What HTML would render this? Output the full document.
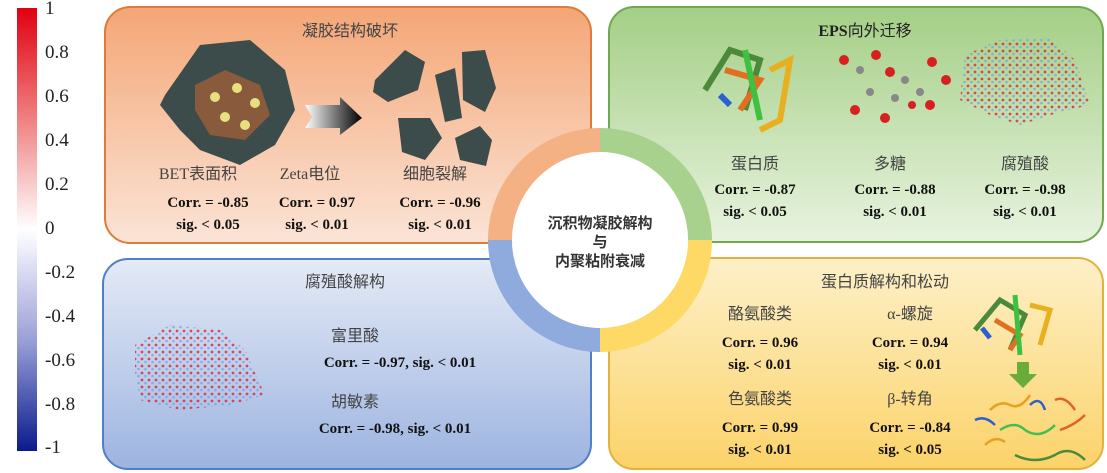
<!DOCTYPE html>
<html><head><meta charset="utf-8"><style>
body{margin:0;width:1107px;height:473px;background:#fff;position:relative;overflow:hidden;font-family:"Liberation Serif","Noto Serif CJK SC",serif;}
.a{position:absolute;}
.box{position:absolute;border-radius:26px;box-sizing:border-box;border:2px solid;}
.t{position:absolute;font-size:16px;color:#444;text-align:center;white-space:nowrap;font-family:"Liberation Serif","Noto Sans CJK SC",sans-serif;}
.c{position:absolute;font-size:15px;font-weight:bold;color:#111;text-align:center;white-space:nowrap;line-height:22px;}
.tick{position:absolute;left:45px;font-size:19px;color:#222;}
</style></head><body>
<div class="a" style="left:17px;top:8px;width:20px;height:443px;background:linear-gradient(#e00010,#f08080 25%,#fff 50%,#9aa0d8 75%,#0a1a8c);"></div>
<div class="tick" style="top:-2px">1</div>
<div class="tick" style="top:42px">0.8</div>
<div class="tick" style="top:86px">0.6</div>
<div class="tick" style="top:130px">0.4</div>
<div class="tick" style="top:174px">0.2</div>
<div class="tick" style="top:218px">0</div>
<div class="tick" style="top:262px">-0.2</div>
<div class="tick" style="top:306px">-0.4</div>
<div class="tick" style="top:350px">-0.6</div>
<div class="tick" style="top:394px">-0.8</div>
<div class="tick" style="top:437px">-1</div>

<div class="box" style="left:104px;top:6px;width:488px;height:238px;border-color:#e07a3a;background:linear-gradient(#f4a676,#fbe4d6);"></div>
<div class="box" style="left:608px;top:6px;width:496px;height:237px;border-color:#6fa84f;background:linear-gradient(#a4cf86,#e8f3df);"></div>
<div class="box" style="left:102px;top:258px;width:490px;height:212px;border-color:#4f7fc4;background:linear-gradient(#e4eaf6,#9db4e0);"></div>
<div class="box" style="left:608px;top:257px;width:496px;height:213px;border-color:#e3b13c;background:linear-gradient(#fdf0c8,#fcd36a);"></div>

<svg class="a" style="left:0;top:0" width="1107" height="473">
 <defs>
  <linearGradient id="ar"><stop offset="0" stop-color="#fff"/><stop offset="1" stop-color="#000"/></linearGradient>
  <pattern id="dots" width="7" height="7" patternUnits="userSpaceOnUse">
   <circle cx="2" cy="2" r="1.4" fill="#d83040"/><circle cx="5.5" cy="5" r="1.3" fill="#7aa8e0"/>
  </pattern>
 </defs>
 <path d="M600 128 A112 112 0 0 1 712 240 L688 240 A88 88 0 0 0 600 152Z" fill="#a9d18e"/>
 <path d="M712 240 A112 112 0 0 1 600 352 L600 328 A88 88 0 0 0 688 240Z" fill="#ffd966"/>
 <path d="M600 352 A112 112 0 0 1 488 240 L512 240 A88 88 0 0 0 600 328Z" fill="#8faadc"/>
 <path d="M488 240 A112 112 0 0 1 600 128 L600 152 A88 88 0 0 0 512 240Z" fill="#f4b183"/>
 <circle cx="600" cy="240" r="88" fill="#fff"/>
 <path d="M165 95 L200 45 L250 40 L285 70 L295 110 L275 145 L240 165 L200 150 L180 130 L160 105Z" fill="#3c4c4a"/>
 <path d="M195 85 L225 70 L260 85 L270 115 L245 140 L210 135 L195 110Z" fill="#8a5a3c"/>
 <circle cx="215" cy="97" r="5" fill="#e8e080"/><circle cx="237" cy="88" r="5" fill="#e8e080"/><circle cx="255" cy="103" r="5" fill="#e8e080"/><circle cx="225" cy="117" r="5" fill="#e8e080"/><circle cx="245" cy="125" r="5" fill="#e8e080"/>
 <path d="M305 105 L340 105 L340 97 L362 118 L340 135 L340 128 L305 128 L312 117Z" fill="url(#ar)"/>
 <path d="M375 80 L405 50 L425 62 L418 90 L388 102 L373 92Z" fill="#3c4c4a"/>
 <path d="M435 75 L455 68 L462 118 L445 122 Z" fill="#3c4c4a"/>
 <path d="M462 52 L485 50 L496 88 L485 112 L463 100 Z" fill="#3c4c4a"/>
 <path d="M398 118 L430 118 L442 138 L425 160 L402 152Z" fill="#3c4c4a"/>
 <path d="M455 138 L480 126 L492 140 L486 166 L460 160Z" fill="#3c4c4a"/>
 <g fill="none" stroke-width="6"><path d="M705 90 L730 50 L760 60 L745 110" stroke="#4a8a3a"/><path d="M725 70 L760 80 L740 110" stroke="#e07020"/><path d="M745 50 L760 120" stroke="#3ec040"/><path d="M770 70 L790 60 L780 120 L760 130" stroke="#e8b020"/><path d="M730 105 L720 95" stroke="#2a60d0"/></g>
 <g fill="#d82020"><circle cx="844" cy="60" r="5"/><circle cx="876" cy="55" r="5"/><circle cx="890" cy="72" r="5"/><circle cx="932" cy="62" r="5"/><circle cx="946" cy="80" r="5"/><circle cx="855" cy="110" r="5"/><circle cx="885" cy="118" r="5"/><circle cx="930" cy="105" r="5"/><circle cx="912" cy="105" r="4"/></g>
 <g fill="#888"><circle cx="860" cy="70" r="4"/><circle cx="870" cy="92" r="4"/><circle cx="905" cy="80" r="4"/><circle cx="920" cy="92" r="4"/><circle cx="895" cy="98" r="4"/></g>
 <path d="M965 55 L1000 40 L1050 38 L1075 60 L1090 105 L1060 112 L1020 125 L990 115 L960 100Z" fill="url(#dots)" opacity=".85"/>
 <path d="M135 345 L170 325 L220 330 L245 350 L265 395 L230 405 L180 410 L140 400 L135 370Z" fill="url(#dots)" opacity=".85"/>
 <g fill="none" stroke-width="5"><path d="M975 330 L1000 300 L1025 315 L1010 350" stroke="#4a8a3a"/><path d="M995 320 L1020 335 L1010 350" stroke="#e07020"/><path d="M1015 295 L1020 355" stroke="#3ec040"/><path d="M1030 305 L1050 310 L1040 345" stroke="#e8b020"/><path d="M990 338 L982 328" stroke="#2a60d0"/></g>
 <path d="M1017 362 L1029 362 L1029 374 L1037 374 L1023 388 L1009 374 L1017 374Z" fill="#6aac3a"/>
 <g fill="none" stroke-width="2.5"><path d="M990 410 q10 -10 20 -5 q10 5 20 -10" stroke="#e8a020"/><path d="M1030 405 q10 -10 15 5" stroke="#3060d0"/><path d="M1055 400 q10 -5 20 10" stroke="#e06030"/><path d="M1000 430 q15 -10 25 0 q15 10 30 -5" stroke="#40c050"/><path d="M1015 455 q20 10 40 0 q15 -10 30 5" stroke="#4a8a3a"/><path d="M975 420 q10 -5 20 5" stroke="#3060d0"/><path d="M1060 430 q15 -5 25 -15" stroke="#e06030"/><path d="M985 445 q10 -10 20 -3" stroke="#e8a020"/></g>
</svg>

<div class="t" style="left:290px;top:17px;width:120px">凝胶结构破坏</div>
<div class="t" style="left:138px;top:160px;width:120px">BET表面积</div>
<div class="t" style="left:255px;top:160px;width:110px">Zeta电位</div>
<div class="t" style="left:380px;top:160px;width:110px">细胞裂解</div>
<div class="c" style="left:148px;top:192px;width:120px">Corr. = -0.85<br>sig. &lt; 0.05</div>
<div class="c" style="left:262px;top:192px;width:110px">Corr. = 0.97<br>sig. &lt; 0.01</div>
<div class="c" style="left:385px;top:192px;width:110px">Corr. = -0.96<br>sig. &lt; 0.01</div>

<div class="t" style="left:790px;top:17px;width:150px;color:#222"><b>EPS</b>向外迁移</div>
<div class="t" style="left:695px;top:150px;width:120px">蛋白质</div>
<div class="t" style="left:830px;top:150px;width:120px">多糖</div>
<div class="t" style="left:965px;top:150px;width:120px">腐殖酸</div>
<div class="c" style="left:695px;top:179px;width:120px">Corr. = -0.87<br>sig. &lt; 0.05</div>
<div class="c" style="left:835px;top:179px;width:120px">Corr. = -0.88<br>sig. &lt; 0.01</div>
<div class="c" style="left:965px;top:179px;width:120px">Corr. = -0.98<br>sig. &lt; 0.01</div>

<div class="a" style="left:512px;top:214px;width:176px;text-align:center;font-family:'Liberation Sans','Noto Sans CJK SC',sans-serif;font-size:15px;font-weight:bold;color:#333;line-height:19px">沉积物凝胶解构<br>与<br>内聚粘附衰减</div>

<div class="t" style="left:290px;top:268px;width:110px">腐殖酸解构</div>
<div class="t" style="left:310px;top:322px;width:90px">富里酸</div>
<div class="c" style="left:300px;top:352px;width:200px">Corr. = -0.97, sig. &lt; 0.01</div>
<div class="t" style="left:310px;top:388px;width:90px">胡敏素</div>
<div class="c" style="left:295px;top:418px;width:200px">Corr. = -0.98, sig. &lt; 0.01</div>

<div class="t" style="left:800px;top:268px;width:170px">蛋白质解构和松动</div>
<div class="t" style="left:700px;top:300px;width:120px">酪氨酸类</div>
<div class="t" style="left:855px;top:300px;width:110px">α-螺旋</div>
<div class="c" style="left:700px;top:332px;width:120px">Corr. = 0.96<br>sig. &lt; 0.01</div>
<div class="c" style="left:850px;top:332px;width:120px">Corr. = 0.94<br>sig. &lt; 0.01</div>
<div class="t" style="left:700px;top:385px;width:120px">色氨酸类</div>
<div class="t" style="left:855px;top:385px;width:110px">β-转角</div>
<div class="c" style="left:700px;top:417px;width:120px">Corr. = 0.99<br>sig. &lt; 0.01</div>
<div class="c" style="left:850px;top:417px;width:120px">Corr. = -0.84<br>sig. &lt; 0.05</div>
</body></html>
